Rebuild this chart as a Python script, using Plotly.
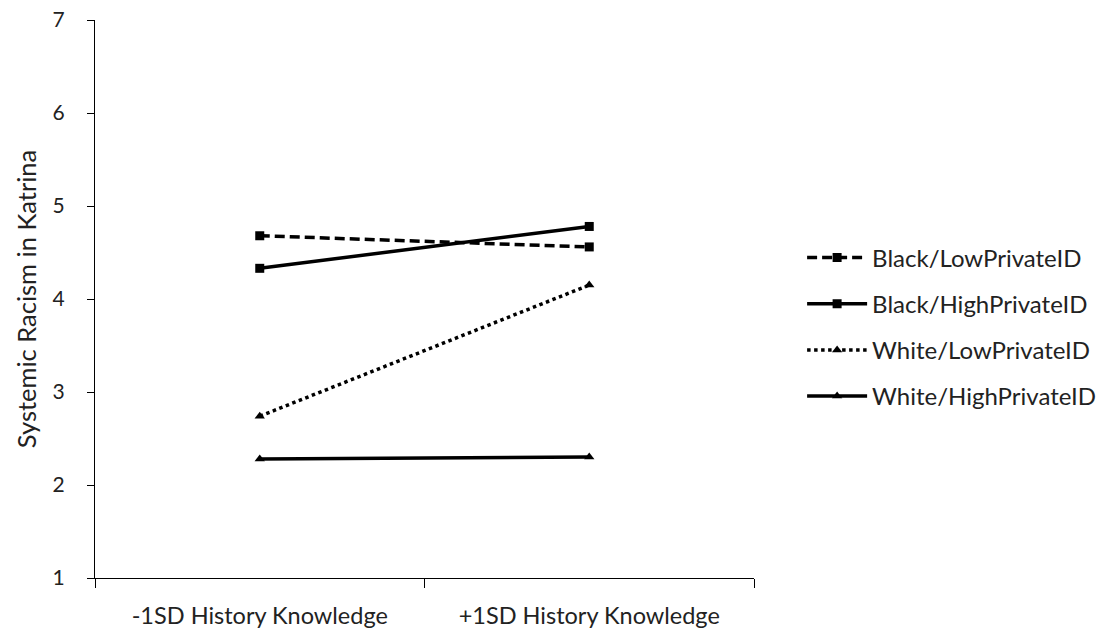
import plotly.graph_objects as go

categories = ["-1SD History Knowledge", "+1SD History Knowledge"]
series_names = ["Black/LowPrivateID", "Black/HighPrivateID", "White/LowPrivateID", "White/HighPrivateID"]
black_low = [4.68, 4.56]
black_high = [4.33, 4.78]
white_low = [2.74, 4.15]
white_high = [2.28, 2.30]
y_ticks = [1, 2, 3, 4, 5, 6, 7]

styles = [
    dict(dash="10px,5px", symbol="square"),
    dict(dash="solid", symbol="square"),
    dict(dash="dot", symbol="triangle-up"),
    dict(dash="solid", symbol="triangle-up"),
]

fig = go.Figure()
for i, (name, vals) in enumerate(zip(series_names, [black_low, black_high, white_low, white_high])):
    st = styles[i]
    fig.add_trace(go.Scatter(
        x=categories, y=vals, name=name, mode="lines+markers",
        line=dict(color="black", width=3.5, dash=st["dash"]),
        marker=dict(symbol=st["symbol"], size=9, color="black"),
        legendgroup=str(i),
    ))

font_family = "Lato, Open Sans, sans-serif"
fig.update_layout(
    width=1106, height=633,
    margin=dict(l=87, r=360, t=12, b=63),
    plot_bgcolor="white", paper_bgcolor="white",
    font=dict(family=font_family, size=22, color="#222"),
    showlegend=True,
    legend=dict(x=1.073, y=0.45, yanchor="middle", xanchor="left",
                tracegroupgap=12, font=dict(size=24, color="#222"),
                itemwidth=60),
    xaxis=dict(type="category", range=[-0.5, 1.5], showline=True, linecolor="black",
               linewidth=1, ticks="outside", tickson="boundaries", ticklen=9,
               tickcolor="black", showgrid=False, zeroline=False, automargin=False,
               ticklabelstandoff=17, tickfont=dict(size=23.5)),
    yaxis=dict(range=[1, 7], tickvals=y_ticks, showline=True, linecolor="black",
               linewidth=1, ticks="outside", ticklen=7, tickcolor="black",
               showgrid=False, zeroline=False, automargin=False,
               ticklabelstandoff=18, ticklabeloverflow="allow", tickfont=dict(size=21),
               title=dict(text="Systemic Racism in Katrina", font=dict(size=25.5), standoff=8)),
)

fig.write_html("out.html")
